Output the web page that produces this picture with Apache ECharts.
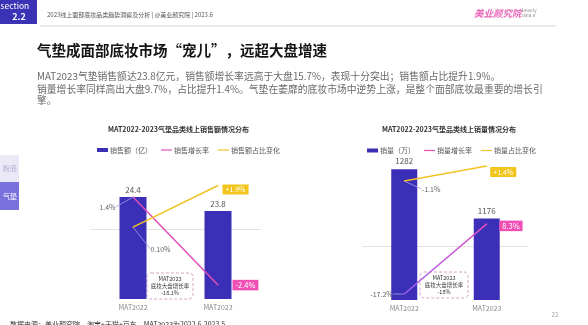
<!DOCTYPE html>
<html><head><meta charset="utf-8">
<script src="https://cdn.jsdelivr.net/npm/echarts@6/dist/echarts.min.js"></script>
<style>html,body{margin:0;padding:0;background:#fff;}#c{width:588px;height:325px;}</style>
</head><body><div id="c"></div>
<script>
// ---- data ----
const categories = ['MAT2022', 'MAT2023'];
const salesValue = [24.4, 23.8];              // 销售额（亿）
const salesGrowth = [1.4, -2.4];              // 销售增长率 %
const salesGrowthLabels = ['1.4%', '-2.4%'];
const salesShare = [0.1, 1.9];                // 销售额占比变化 %
const salesShareLabels = ['0.10%', '+1.9%'];
const volumeValue = [1282, 1176];             // 销量（万）
const volumeGrowth = [-17.2, 8.3];            // 销量增长率 %
const volumeGrowthLabels = ['-17.2%', '8.3%'];
const volumeShare = [-1.1, 1.4];              // 销量占比变化 %
const volumeShareLabels = ['-1.1%', '+1.4%'];
const paragraphLines = [
  'MAT2023气垫销售额达23.8亿元，销售额增长率远高于大盘15.7%，表现十分突出；销售额占比提升1.9%。',
  '销量增长率同样高出大盘9.7%，占比提升1.4%。气垫在萎靡的底妆市场中逆势上涨，是整个面部底妆最重要的增长引',
  '擎。'
];

const FONT = "'Noto Sans CJK SC','Noto Sans',sans-serif";
const BAR = '#3a2fb6', PINK = '#e04fb8', YEL = '#f2c226', LEAD = '#a79ee6';

const chart = echarts.init(document.getElementById('c'), null, {renderer: 'canvas'});

function leaderLayout(dx, dy, endDx, endDy) {
  return function (p) { return p.dataIndex === 0 ? {dx: dx, dy: dy} : {dx: endDx, dy: endDy}; };
}
function lineData(vals, labels, startPos, endCfg) {
  return vals.map((v, i) => ({
    value: v,
    label: i === 0
      ? {show: true, position: startPos, color: '#666', fontSize: 7, formatter: labels[i]}
      : Object.assign({show: true, position: 'right', color: '#fff', fontSize: 7, padding: [2, 3, 1, 3], formatter: labels[i]}, endCfg),
    labelLine: {show: i === 0, lineStyle: {color: LEAD, width: 0.8}}
  }));
}

const pinkGrad = new echarts.graphic.LinearGradient(0, 1, 1, 0, [{offset: 0, color: '#9b62f0'}, {offset: 1, color: '#e84fbe'}]);

const graphics = [
  {type: 'rect', shape: {x: 0, y: 0, width: 37, height: 24}, style: {fill: '#3b33b5'}},
  {type: 'text', x: 0.5, y: 6, style: {text: 'section', fill: '#fff', font: '8.5px ' + FONT, verticalAlign: 'middle'}},
  {type: 'text', x: 19, y: 17, style: {text: '2.2', fill: '#fff', font: 'bold 9px ' + FONT, align: 'center', verticalAlign: 'middle'}},
  {type: 'text', x: 47, y: 15, style: {text: '2023线上面部底妆品类趋势洞察及分析 | @美业颜究院 | 2023.6', fill: '#555', font: '6px ' + FONT, verticalAlign: 'middle'}},
  {type: 'line', shape: {x1: 40, y1: 26, x2: 556, y2: 26}, style: {stroke: '#d6d6d6', lineWidth: 1}},
  {type: 'text', x: 474, y: 13, style: {text: '美业颜究院', fill: '#e86ab8', font: 'italic bold 9.5px ' + FONT, verticalAlign: 'middle'}},
  {type: 'text', x: 522, y: 10, style: {text: 'beauty', fill: '#999', font: '4.5px ' + FONT, verticalAlign: 'middle'}},
  {type: 'text', x: 522, y: 15.5, style: {text: 'data.a', fill: '#999', font: '4.5px ' + FONT, verticalAlign: 'middle'}},
  {type: 'text', x: 37, y: 50, style: {text: '气垫成面部底妆市场“宠儿”，远超大盘增速', fill: '#141414', font: 'bold 14.5px ' + FONT, verticalAlign: 'middle'}},
  {type: 'text', x: 37, y: 76.5, style: {text: paragraphLines[0], fill: '#6a6a6a', font: '9.8px ' + FONT, verticalAlign: 'middle'}},
  {type: 'text', x: 37, y: 89, style: {text: paragraphLines[1], fill: '#6a6a6a', font: '9.8px ' + FONT, verticalAlign: 'middle'}},
  {type: 'text', x: 37, y: 100.5, style: {text: paragraphLines[2], fill: '#6a6a6a', font: '9.8px ' + FONT, verticalAlign: 'middle'}},
  {type: 'rect', shape: {x: 0, y: 155, width: 19, height: 27}, style: {fill: '#ebe9f7'}},
  {type: 'text', x: 17, y: 168.5, style: {text: '粉底', fill: '#b0acd0', font: '7px ' + FONT, align: 'right', verticalAlign: 'middle'}},
  {type: 'rect', shape: {x: 0, y: 182, width: 19, height: 28}, style: {fill: '#7b71dc'}},
  {type: 'text', x: 17, y: 196, style: {text: '气垫', fill: '#fff', font: '7px ' + FONT, align: 'right', verticalAlign: 'middle'}},
  {type: 'rect', shape: {x: 147, y: 273, width: 46, height: 26, r: 4}, style: {fill: '#fff', stroke: '#d9a3c6', lineWidth: 1, lineDash: [3, 2]}},
  {type: 'text', x: 170, y: 286, style: {text: 'MAT2023\n底妆大盘增长率\n-18.1%', fill: '#333', font: '5.5px ' + FONT, align: 'center', verticalAlign: 'middle', lineHeight: 7}},
  {type: 'rect', shape: {x: 420, y: 272, width: 48, height: 26, r: 4}, style: {fill: '#fff', stroke: '#d9a3c6', lineWidth: 1, lineDash: [3, 2]}},
  {type: 'text', x: 444, y: 285, style: {text: 'MAT2023\n底妆大盘增长率\n-18%', fill: '#333', font: '5.5px ' + FONT, align: 'center', verticalAlign: 'middle', lineHeight: 7}},
  {type: 'text', x: 555, y: 315, style: {text: '22', fill: '#aaa', font: '6.5px ' + FONT, align: 'center', verticalAlign: 'middle'}},
  {type: 'text', x: 10, y: 321, style: {text: '数据来源：美业颜究院，淘宝+天猫+京东，MAT2023为2022.6-2023.5', fill: '#333', font: '7px ' + FONT, verticalAlign: 'top'}}
];
graphics.forEach(g => { g.silent = true; g.z = 0; });

const lineIcon = 'path://M0,0 L12,0 L12,1.3 L0,1.3 Z';
const legendCommon = {
  itemWidth: 11, itemHeight: 4, itemGap: 9, selectedMode: false,
  textStyle: {fontSize: 7, color: '#555', fontFamily: FONT, padding: [0, 0, 0, -3]}
};

const option = {
  animation: false,
  backgroundColor: '#fff',
  textStyle: {fontFamily: FONT},
  title: [
    {text: 'MAT2022-2023气垫品类线上销售额情况分布', left: 103, top: 121, textStyle: {fontSize: 7, fontWeight: 'bold', color: '#333', fontFamily: FONT}},
    {text: 'MAT2022-2023气垫品类线上销量情况分布', left: 377, top: 121, textStyle: {fontSize: 7, fontWeight: 'bold', color: '#333', fontFamily: FONT}}
  ],
  legend: [
    Object.assign({left: 92, top: 141.5, data: [
      {name: '销售额（亿）', icon: 'rect'},
      {name: '销售增长率', icon: lineIcon, itemStyle: {color: PINK}},
      {name: '销售额占比变化', icon: lineIcon, itemStyle: {color: YEL}}
    ]}, legendCommon),
    Object.assign({left: 362, top: 142, data: [
      {name: '销量（万）', icon: 'rect'},
      {name: '销量增长率', icon: lineIcon, itemStyle: {color: PINK}},
      {name: '销量占比变化', icon: lineIcon, itemStyle: {color: YEL}}
    ]}, legendCommon)
  ],
  grid: [
    {left: 90.5, width: 170, top: 160, height: 139},
    {left: 363, width: 165, top: 161, height: 139}
  ],
  xAxis: [0, 1].map(g => ({
    type: 'category', gridIndex: g, data: categories,
    axisLine: {lineStyle: {color: '#e3e3e3', width: 1}}, axisTick: {show: false},
    axisLabel: {color: '#888', fontSize: 7, margin: 5, fontFamily: FONT}
  })),
  yAxis: [
    {gridIndex: 0, show: false, min: 20, max: 26},
    {gridIndex: 0, show: false, min: -3, max: 3},
    {gridIndex: 1, show: false, min: 1000, max: 1300},
    {gridIndex: 1, show: false, min: -19.38, max: 31.17},
    {gridIndex: 1, show: false, min: -20.93, max: 2.24}
  ].map(a => Object.assign({type: 'value', splitLine: {show: false}}, a)),
  series: [
    {name: '销售额（亿）', type: 'bar', xAxisIndex: 0, yAxisIndex: 0, data: salesValue, barWidth: 27,
      itemStyle: {color: BAR}, label: {show: true, position: 'top', distance: 3, color: '#555', fontSize: 8}},
    {name: '销售增长率', type: 'line', xAxisIndex: 0, yAxisIndex: 1, z: 4,
      data: lineData(salesGrowth, salesGrowthLabels, 'left', {backgroundColor: '#f04fb4', distance: 14, fontSize: 7.5}),
      symbol: 'circle', symbolSize: 1, lineStyle: {color: PINK, width: 1.5}, itemStyle: {color: PINK},
      labelLayout: leaderLayout(-12, 10, 0, 0)},
    {name: '销售额占比变化', type: 'line', xAxisIndex: 0, yAxisIndex: 1, z: 4,
      data: lineData(salesShare, salesShareLabels, 'right', {backgroundColor: '#f3c51a', distance: 4}),
      symbol: 'circle', symbolSize: 1, lineStyle: {color: YEL, width: 1.5}, itemStyle: {color: YEL},
      labelLayout: leaderLayout(12, 22, 0, 4)},
    {name: '销量（万）', type: 'bar', xAxisIndex: 1, yAxisIndex: 2, data: volumeValue, barWidth: 26,
      itemStyle: {color: BAR}, label: {show: true, position: 'top', distance: 4, color: '#555', fontSize: 8}},
    {name: '销量增长率', type: 'line', xAxisIndex: 1, yAxisIndex: 3, z: 4,
      data: lineData(volumeGrowth, volumeGrowthLabels, 'left', {backgroundColor: '#f04fb4', distance: 12, fontSize: 7.5}),
      symbol: 'circle', symbolSize: 1, lineStyle: {color: pinkGrad, width: 1.5}, itemStyle: {color: PINK},
      labelLayout: leaderLayout(-6, 0, 0, 2)},
    {name: '销量占比变化', type: 'line', xAxisIndex: 1, yAxisIndex: 4, z: 4,
      data: lineData(volumeShare, volumeShareLabels, 'right', {backgroundColor: '#f3c51a', distance: 3}),
      symbol: 'circle', symbolSize: 1, lineStyle: {color: YEL, width: 1.5}, itemStyle: {color: YEL},
      labelLayout: leaderLayout(12, 8, 0, 6)}
  ],
  graphic: graphics
};
chart.setOption(option);
</script></body></html>
